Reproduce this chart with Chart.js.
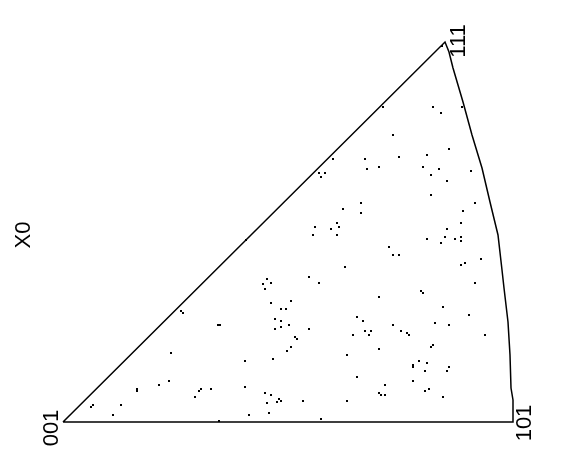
<!DOCTYPE html>
<html>
<head>
<meta charset="utf-8">
<script src="https://cdn.jsdelivr.net/npm/chart.js@4/dist/chart.umd.min.js"></script>
<style>
  html, body { margin: 0; padding: 0; background: #fff; }
  #ipf { display: block; }
</style>
</head>
<body>
<canvas id="ipf" width="563" height="452"></canvas>
<script>
// Inverse pole figure, standard triangle 001-101-111.
// Units: picture pixels measured from the 001 corner, x to the right, y upwards.

const cornerNames = ['001', '101', '111'];
const cornerX = [0, 450, 382];
const cornerY = [0, 0, 380];

const arcX = [382, 386, 390, 395, 400, 409, 419, 427, 435, 439, 441, 445, 447, 448, 450, 450];
const arcY = [380, 370, 354, 337, 320, 287, 254, 220, 187, 152, 134, 100, 67, 34, 22, 0];

const axisTitle = 'X0';

// one dot per grain orientation
const grains = [
    // lower left
    [118, 111], [120, 109], [155, 97], [157, 97], [108, 69], [182, 61], [106, 41], [96, 37],
    [74, 33], [74, 31], [138, 33], [136, 31], [148, 33], [182, 35], [132, 25], [30, 17],
    [28, 15], [58, 17], [50, 7], [186, 7], [156, 1],
    // middle
    [183, 182], [204, 143], [200, 138], [208, 139], [202, 133], [246, 145], [282, 155], [256, 139],
    [316, 125], [208, 119], [228, 121], [218, 113], [223, 113], [212, 103], [218, 101], [226, 97],
    [212, 93], [218, 95], [246, 93], [232, 85], [234, 83], [228, 75], [224, 71], [210, 63],
    [294, 105], [300, 101], [302, 91], [308, 91], [290, 87], [306, 87], [330, 97], [316, 73],
    [284, 67], [294, 45], [322, 37], [316, 29], [318, 27], [322, 27], [202, 29], [208, 27],
    [204, 19], [216, 23], [214, 20], [218, 21], [206, 9], [240, 21], [284, 21], [258, 3],
    // lower right
    [418, 163], [402, 159], [398, 157], [412, 139], [358, 131], [360, 129], [380, 115], [406, 107],
    [372, 99], [386, 97], [338, 91], [344, 89], [346, 87], [422, 87], [370, 77], [368, 75],
    [356, 61], [364, 59], [350, 57], [350, 55], [386, 55], [384, 51], [362, 51], [350, 41],
    [366, 33], [362, 31], [380, 25], [336, 167],
    // upper part
    [379, 376], [320, 315], [370, 315], [378, 309], [399, 315], [330, 287], [386, 273], [364, 267],
    [336, 265], [302, 263], [270, 263], [316, 255], [304, 253], [360, 255], [376, 253], [256, 249],
    [262, 249], [258, 245], [368, 247], [408, 251], [384, 241], [368, 227], [412, 219], [298, 219],
    [280, 213], [298, 209], [400, 211], [398, 199], [252, 195], [250, 187], [274, 199], [276, 195],
    [268, 193], [274, 187], [384, 193], [364, 183], [382, 185], [378, 179], [392, 183], [398, 185],
    [398, 181], [326, 175], [330, 167]
];

// outline: 001 -> 111 straight, 111 -> 101 along the arc, 101 -> 001 straight
const outline = [{ x: cornerX[0], y: cornerY[0] }]
    .concat(arcX.map((v, i) => ({ x: v, y: arcY[i] })))
    .concat([{ x: cornerX[0], y: cornerY[0] }]);

function drawUp(ctx, text, px, py) {
    ctx.save();
    ctx.translate(px, py);
    ctx.rotate(-Math.PI / 2);
    ctx.fillText(text, 0, 0);
    ctx.restore();
}

const labelPlugin = {
    id: 'ipfLabels',
    afterDraw(chart) {
        const { ctx, scales: { x, y } } = chart;
        // baseline offset / along-text offset from each corner, in pixels
        const offsets = { '001': [-5, 6], '101': [18, 1], '111': [20, -1] };
        ctx.save();
        ctx.font = '22px "Liberation Sans", Arial, sans-serif';
        ctx.fillStyle = '#000';
        ctx.textAlign = 'center';
        ctx.textBaseline = 'alphabetic';
        cornerNames.forEach((name, i) => {
            const [dx, dy] = offsets[name];
            drawUp(ctx, name, x.getPixelForValue(cornerX[i]) + dx, y.getPixelForValue(cornerY[i]) + dy);
        });
        drawUp(ctx, axisTitle, 30, 235);
        ctx.restore();
    }
};

new Chart(document.getElementById('ipf'), {
    type: 'scatter',
    data: {
        datasets: [
            {
                label: 'outline',
                data: outline,
                showLine: true,
                borderColor: '#000',
                borderWidth: 1.5,
                pointRadius: 0,
                tension: 0,
                fill: false
            },
            {
                label: 'grains',
                data: grains.map(([gx, gy]) => ({ x: gx, y: gy })),
                pointStyle: 'rect',
                pointRadius: 1.42,
                pointBorderWidth: 0,
                backgroundColor: '#000',
                borderColor: '#000'
            }
        ]
    },
    options: {
        responsive: false,
        animation: false,
        devicePixelRatio: 1,
        layout: { padding: 0, autoPadding: false },
        plugins: {
            legend: { display: false },
            tooltip: { enabled: false }
        },
        scales: {
            x: { type: 'linear', display: false, min: -63, max: 500 },
            y: { type: 'linear', display: false, min: -30, max: 422 }
        }
    },
    plugins: [labelPlugin]
});
</script>
</body>
</html>
